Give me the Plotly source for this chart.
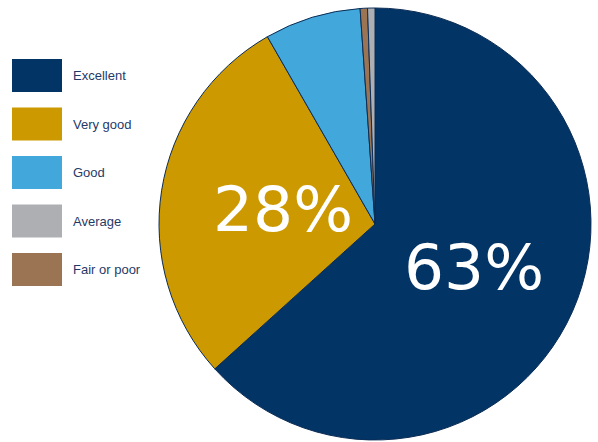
import math
import plotly.graph_objects as go

# Data
categories = ["Excellent", "Very good", "Good", "Fair or poor", "Average"]
values = [63.3, 28.4, 7.2, 0.55, 0.55]
labels_text = ["63%", "28%", "", "", ""]
label_radius = [0.50, 0.43, 0, 0, 0]  # fraction of radius for label placement
colors = {
    "Excellent": "#023466",
    "Very good": "#CC9900",
    "Good": "#42A8DB",
    "Average": "#AEAFB2",
    "Fair or poor": "#9B7454",
}
legend_order = ["Excellent", "Very good", "Good", "Average", "Fair or poor"]

W, H = 598, 442
px0, px1, py0, py1 = 159, 591, 8, 440  # pie box in pixels (top-left origin)

fig = go.Figure()
fig.add_trace(go.Pie(
    labels=categories,
    values=values,
    textinfo="none",
    sort=False,
    direction="clockwise",
    rotation=0,
    marker=dict(colors=[colors[c] for c in categories],
                line=dict(color="#0B2C55", width=1)),
    domain=dict(x=[px0 / W, px1 / W], y=[1 - py1 / H, 1 - py0 / H]),
    showlegend=False,
    hoverinfo="label+percent",
))

shapes = []
annotations = []

# Percentage labels placed at slice mid-angles
cx, cy = (px0 + px1) / 2, (py0 + py1) / 2
r = (px1 - px0) / 2
total = sum(values)
cum = 0.0
for v, t, f in zip(values, labels_text, label_radius):
    mid = (cum + v / 2) / total * 2 * math.pi
    cum += v
    if not t:
        continue
    x = cx + f * r * math.sin(mid)
    y = cy - f * r * math.cos(mid)
    annotations.append(dict(xref="paper", yref="paper", x=x / W, y=1 - y / H,
                            xanchor="center", yanchor="middle", text=t,
                            showarrow=False,
                            font=dict(family="DejaVu Sans ExtraLight, DejaVu Sans, sans-serif",
                                      size=63, color="white")))

# Manual legend with large swatches
y0 = 59
step = 48.5
for i, name in enumerate(legend_order):
    top = y0 + i * step
    shapes.append(dict(type="rect", xref="paper", yref="paper",
                       x0=12 / W, x1=62 / W,
                       y0=1 - (top + 33) / H, y1=1 - top / H,
                       fillcolor=colors[name], line=dict(width=0)))
    annotations.append(dict(xref="paper", yref="paper",
                            x=71 / W, y=1 - (top + 16.5) / H,
                            xanchor="left", yanchor="middle",
                            text=name, showarrow=False,
                            font=dict(family="Liberation Sans, Arial, sans-serif",
                                      size=13, color="#1F3A68")))

fig.update_layout(
    width=W, height=H,
    margin=dict(l=0, r=0, t=0, b=0),
    paper_bgcolor="white",
    plot_bgcolor="white",
    shapes=shapes,
    annotations=annotations,
)

fig.write_html("out.html")
